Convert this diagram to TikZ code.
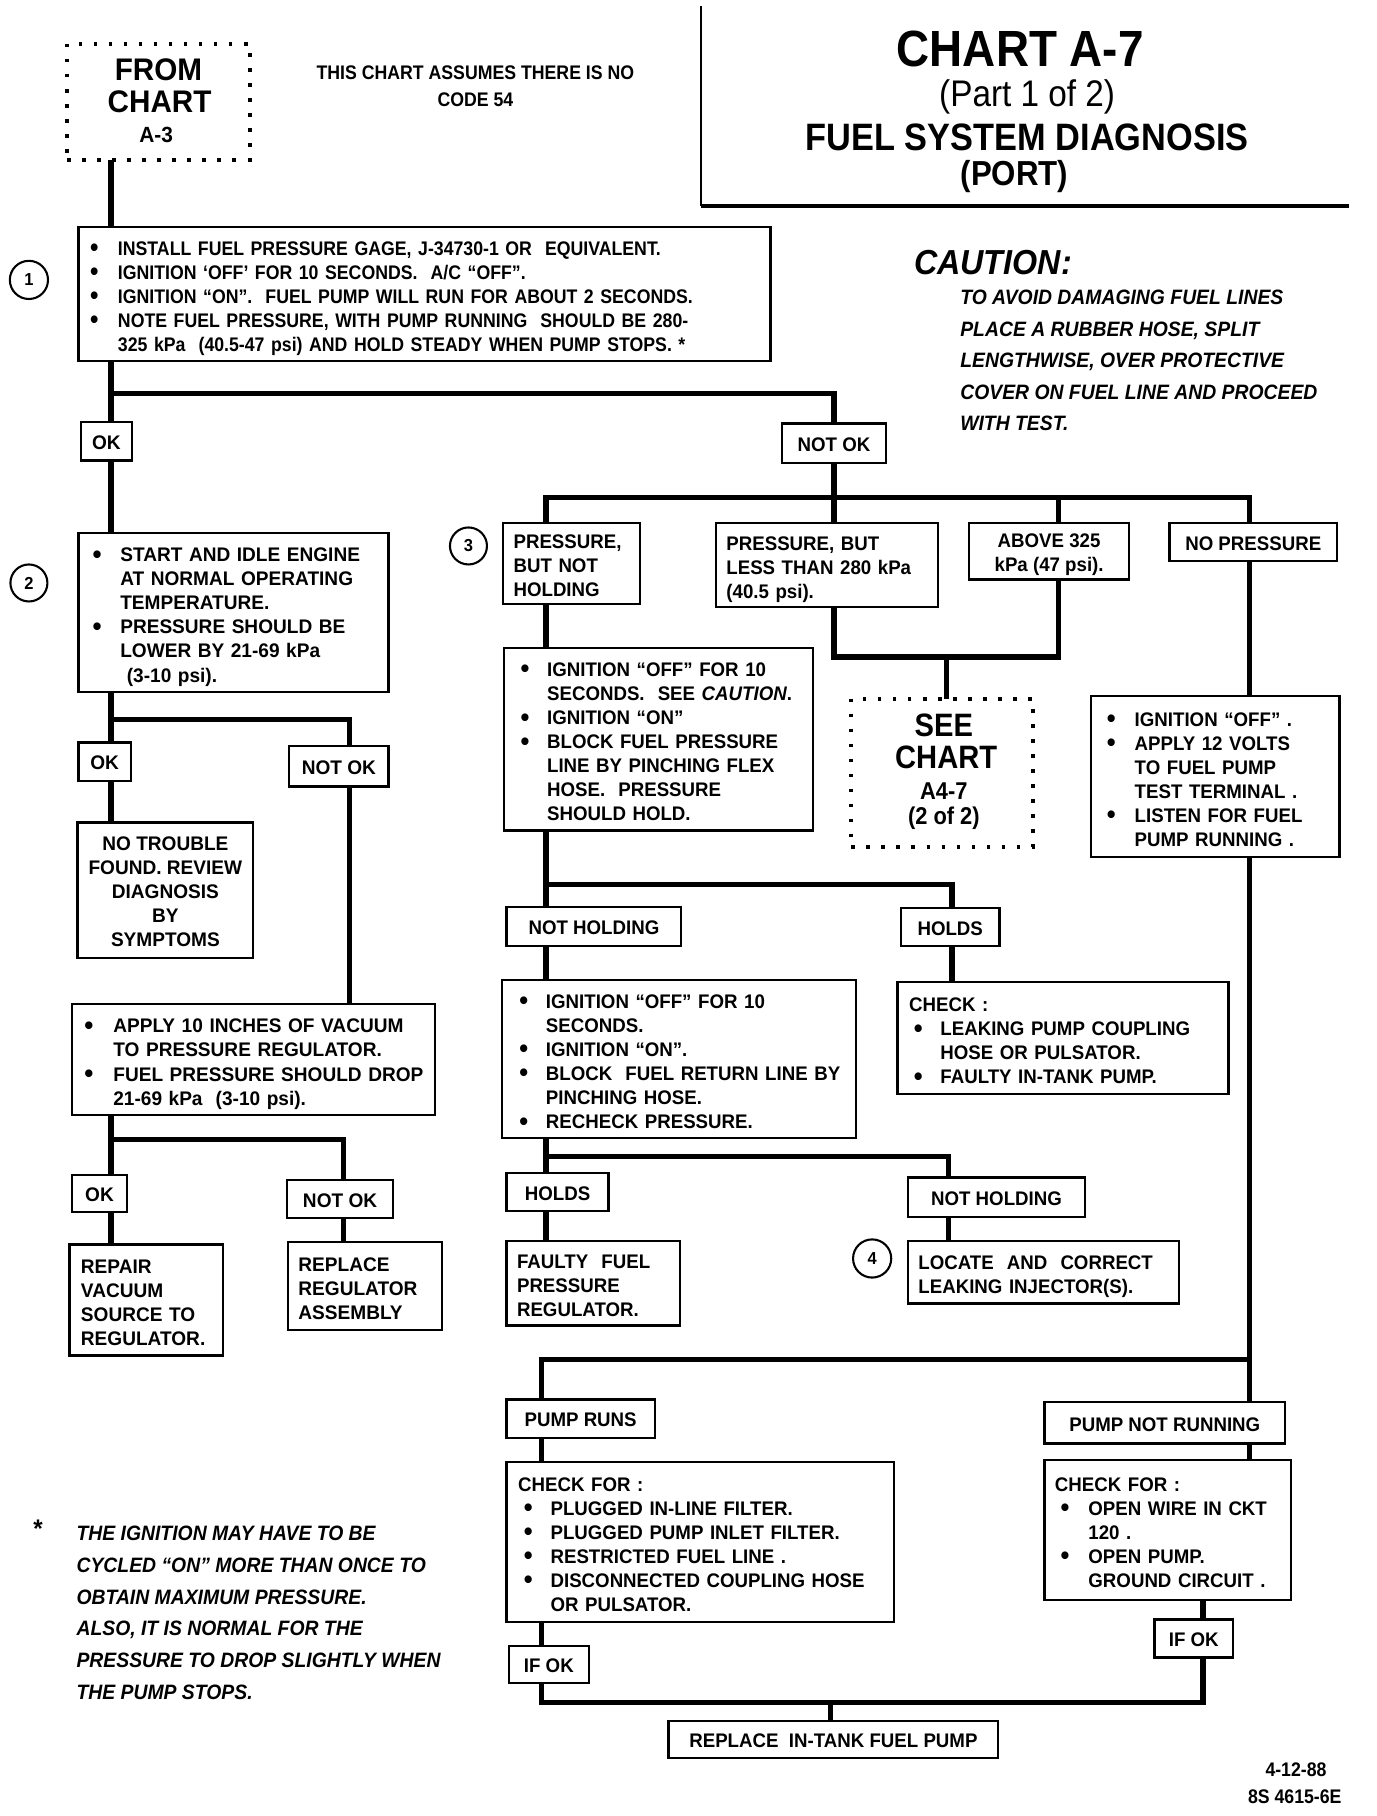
\documentclass[tikz,border=0pt]{standalone}
\usepackage{fontspec}
\setmainfont{Liberation Sans}
\newfontfamily\cf{Liberation Sans}[FakeStretch=0.9]
\newfontfamily\nf{Liberation Sans}[FakeStretch=0.95]
\newfontfamily\wf{Liberation Sans}[FakeStretch=0.97]
\newfontfamily\itf{Liberation Sans}[FakeStretch=0.93]
\newlength\bulw
\setlength\bulw{24pt}
\newcommand\bu{\makebox[\bulw][l]{\raisebox{-1.3pt}{\fontsize{23}{0}\selectfont\textbullet}}}
\newcommand\ind{\hspace*{\bulw}}
\tikzset{
 box/.style={draw, line width=2pt, outer sep=0pt, anchor=north west, inner ysep=0pt,
   font=\nf\bfseries\fontsize{17}{20.8}\selectfont},
 wide/.style={font=\wf\bfseries\fontsize{17}{20.8}\selectfont},
 cond/.style={font=\cf\bfseries\fontsize{17}{20.8}\selectfont},
 conn/.style={line width=4.5pt, line join=miter},
 dotbox/.style={draw, line width=3.5pt, dash pattern=on 3pt off 10pt, anchor=north west, outer sep=0pt, inner sep=0pt},
 circ/.style={circle, draw, line width=1.8pt, minimum size=33pt, inner sep=0pt, font=\nf\bfseries\fontsize{15}{15}\selectfont},
 txt/.style={inner sep=0pt},
}
\newcommand\lbox[8][]{%
 \pgfmathsetmacro\bw{#5-#3}\pgfmathsetmacro\bh{#6-#4}\pgfmathsetmacro\tw{#5-#3-2*#7}%
 \node[box,#1,inner xsep=#7pt,minimum width=\bw pt,minimum height=\bh pt,text width=\tw pt,align=left] (#2) at (#3,#4) {\noindent\raisebox{-4pt}[\height][\depth]{\begin{tabular}{@{}l@{}}#8\end{tabular}}};}
\newcommand\cbox[7][]{%
 \pgfmathsetmacro\bw{#5-#3}\pgfmathsetmacro\bh{#6-#4}%
 \node[box,#1,inner xsep=0pt,minimum width=\bw pt,minimum height=\bh pt] (#2) at (#3,#4) {\raisebox{-3pt}[\height][\depth]{\begin{tabular}{@{}c@{}}#7\end{tabular}}};}
\begin{document}
\begin{tikzpicture}[x=1pt,y=-1pt]
\fill[white] (0,0) rectangle (1190,1570);
\useasboundingbox (0,0) rectangle (1190,1570);

% ---------- header ----------
\node[dotbox, minimum width=158pt, minimum height=100pt] (fromA) at (58,38) {};
\node[txt, font=\nf\bfseries\fontsize{27}{27}\selectfont] (fromT1) at (137,60) {FROM};
\node[txt, font=\nf\bfseries\fontsize{27}{27}\selectfont] (fromT2) at (138,88) {CHART};
\node[txt, font=\nf\bfseries\fontsize{19}{19}\selectfont] (fromT3) at (135,117) {A-3};

\node[txt, font=\cf\bfseries\fontsize{17}{17}\selectfont] (assume1) at (411,63) {THIS CHART ASSUMES THERE IS NO};
\node[txt, font=\cf\bfseries\fontsize{17}{17}\selectfont] (assume2) at (411,86) {CODE 54};

\coordinate (tl1) at (606,5);
\coordinate (tl2) at (606,178);
\coordinate (tl3) at (1166,178);
\draw[line width=2pt] (tl1) -- (tl2);
\draw[line width=3pt] (tl2) -- (tl3);
\node[txt, font=\cf\bfseries\fontsize{44}{44}\selectfont] (title1) at (882,42) {CHART A-7};
\node[txt, font=\cf\fontsize{32}{32}\selectfont] (title2) at (888,84) {(Part 1 of 2)};
\node[txt, font=\cf\bfseries\fontsize{33}{33}\selectfont] (title3) at (888,119) {FUEL SYSTEM DIAGNOSIS};
\node[txt, font=\cf\bfseries\fontsize{30}{30}\selectfont] (title4) at (877,153) {(PORT)};

% caution
\node[txt, anchor=west, font=\itf\bfseries\itshape\fontsize{30}{30}\selectfont] (caut) at (790,227) {CAUTION:};
\node[txt, anchor=north west, align=left, font=\itf\bfseries\itshape\fontsize{18}{27.3}\selectfont] (cautT) at (830,244)
 {\begin{tabular}{@{}l@{}}TO AVOID DAMAGING FUEL LINES\\PLACE A RUBBER HOSE, SPLIT\\LENGTHWISE, OVER PROTECTIVE\\COVER ON FUEL LINE AND PROCEED\\WITH TEST.\end{tabular}};

% ---------- boxes ----------
\setlength\bulw{24pt}
\lbox[cond]{b1}{68}{196}{666}{312}{10}{\bu INSTALL FUEL PRESSURE GAGE, J-34730-1 OR\ \ EQUIVALENT.\\
\bu IGNITION ‘OFF’ FOR 10 SECONDS.\ \ A/C “OFF”.\\
\bu IGNITION “ON”.\ \ FUEL PUMP WILL RUN FOR ABOUT 2 SECONDS.\\
\bu NOTE FUEL PRESSURE, WITH PUMP RUNNING\ \ SHOULD BE 280-\\
\ind 325 kPa\ \ (40.5-47 psi) AND HOLD STEADY WHEN PUMP STOPS. *}
\node[circ] (c1) at (25,242) {1};

\cbox[wide]{ok1}{70}{365}{114}{398}{OK}
\cbox{notok1}{676}{366}{766}{400}{NOT OK}

\lbox[wide]{b2}{68}{461}{336}{598}{12}{\bu START AND IDLE ENGINE\\ \ind AT NORMAL OPERATING\\ \ind TEMPERATURE.\\
\bu PRESSURE SHOULD BE\\ \ind LOWER BY 21-69 kPa\\ \ind\ (3-10 psi).}
\node[circ, minimum size=32pt] (c2) at (25,504) {2};

\cbox[wide]{ok2}{68}{642}{113}{675}{OK}
\cbox[wide]{notok2}{250}{645}{336}{680}{NOT OK}
\cbox[wide]{notrouble}{67}{711}{219}{828}{NO TROUBLE\\FOUND. REVIEW\\DIAGNOSIS\\BY\\SYMPTOMS}

\setlength\bulw{25pt}
\lbox[wide]{apply}{62}{868}{376}{964}{11}{\bu APPLY 10 INCHES OF VACUUM\\ \ind TO PRESSURE REGULATOR.\\
\bu FUEL PRESSURE SHOULD DROP\\ \ind 21-69 kPa\ \ (3-10 psi).}
\cbox[wide]{ok3}{62}{1016}{110}{1048}{OK}
\cbox[wide]{notok3}{248}{1020}{340}{1053}{NOT OK}
\lbox[wide]{repair}{60}{1076}{193}{1172}{10}{REPAIR\\VACUUM\\SOURCE TO\\REGULATOR.}
\lbox[wide]{replreg}{249}{1074}{382}{1150}{9}{REPLACE\\REGULATOR\\ASSEMBLY}

% middle row of outcomes
\lbox{pbnh}{435}{452}{553}{522}{9}{PRESSURE,\\BUT NOT\\HOLDING}
\node[circ, minimum size=32pt] (c3) at (405,472) {3};
\lbox{less}{619}{452}{811}{525}{9}{PRESSURE, BUT\\LESS THAN 280 kPa\\(40.5 psi).}
\cbox{above}{838}{452}{976}{501}{ABOVE 325\\kPa (47 psi).}
\cbox{nop}{1011}{452}{1156}{485}{NO PRESSURE}

\setlength\bulw{23pt}
\lbox{ign1}{436}{560}{703}{718}{14}{\bu IGNITION “OFF” FOR 10\\ \ind SECONDS.\ \ SEE \textit{CAUTION}.\\
\bu IGNITION “ON”\\ \bu BLOCK FUEL PRESSURE\\ \ind LINE BY PINCHING FLEX\\ \ind HOSE.\ \ PRESSURE\\ \ind SHOULD HOLD.}

\node[dotbox, minimum width=157pt, minimum height=128pt] (seeA) at (736,604) {};
\node[txt, font=\cf\bfseries\fontsize{28}{28}\selectfont] (seeT1) at (816,627) {SEE};
\node[txt, font=\cf\bfseries\fontsize{28}{28}\selectfont] (seeT2) at (818,655) {CHART};
\node[txt, font=\cf\bfseries\fontsize{21}{21}\selectfont] (seeT3) at (816,684) {A4-7};
\node[txt, font=\cf\bfseries\fontsize{21}{21}\selectfont] (seeT4) at (816,707) {(2 of 2)};

\setlength\bulw{24pt}
\lbox{rbox}{943}{602}{1158}{741}{14}{\bu IGNITION “OFF” .\\ \bu APPLY 12 VOLTS\\ \ind TO FUEL PUMP\\ \ind TEST TERMINAL .\\
\bu LISTEN FOR FUEL\\ \ind PUMP RUNNING .}

\cbox{nothold1}{438}{784}{589}{818}{NOT HOLDING}
\cbox{holds1}{779}{785}{864}{818}{HOLDS}

\setlength\bulw{23pt}
\lbox{box3}{434}{847}{740}{984}{15}{\bu IGNITION “OFF” FOR 10\\ \ind SECONDS.\\ \bu IGNITION “ON”.\\
\bu BLOCK\ \ FUEL RETURN LINE BY\\ \ind PINCHING HOSE.\\ \bu RECHECK PRESSURE.}
\lbox{check1}{776}{849}{1062}{946}{14}{\hspace*{-4pt}CHECK :\\ \bu LEAKING PUMP COUPLING\\ \ind HOSE OR PULSATOR.\\ \bu FAULTY IN-TANK PUMP.}

\cbox{holds2}{438}{1014}{526}{1047}{HOLDS}
\cbox{nothold2}{785}{1018}{938}{1052}{NOT HOLDING}
\lbox{faulty}{438}{1073}{588}{1146}{9}{FAULTY\ \ FUEL\\PRESSURE\\REGULATOR.}
\node[circ] (c4) at (754,1088) {4};
\lbox{locate}{785}{1073}{1019}{1127}{9}{LOCATE\ \ AND\ \ CORRECT\\LEAKING INJECTOR(S).}

\cbox{pumpruns}{438}{1210}{566}{1243}{PUMP RUNS}
\cbox{pumpnr}{903}{1212}{1111}{1248}{PUMP NOT RUNNING}
\lbox{checkL}{438}{1264}{773}{1402}{15}{\hspace*{-5pt}CHECK FOR :\\ \bu PLUGGED IN-LINE FILTER.\\ \bu PLUGGED PUMP INLET FILTER.\\
\bu RESTRICTED FUEL LINE .\\ \bu DISCONNECTED COUPLING HOSE\\ \ind OR PULSATOR.}
\setlength\bulw{24pt}
\lbox{checkR}{903}{1262}{1116}{1383}{14}{\hspace*{-5pt}CHECK FOR :\\ \bu OPEN WIRE IN CKT\\ \ind 120 .\\ \bu OPEN PUMP.\\ \ind GROUND CIRCUIT .}
\cbox{ifokL}{440}{1423}{509}{1455}{IF OK}
\cbox{ifokR}{998}{1400}{1066}{1433}{IF OK}
\cbox{replace}{578}{1488}{863}{1520}{REPLACE\ \ IN-TANK FUEL PUMP}

% footnote
\node[txt, font=\nf\bfseries\fontsize{22}{22}\selectfont] (star) at (33,1322) {*};
\node[txt, anchor=north west, align=left, font=\itf\bfseries\itshape\fontsize{18}{27.6}\selectfont] (foot) at (66,1312)
 {\begin{tabular}{@{}l@{}}THE IGNITION MAY HAVE TO BE\\CYCLED “ON” MORE THAN ONCE TO\\OBTAIN MAXIMUM PRESSURE.\\ALSO, IT IS NORMAL FOR THE\\PRESSURE TO DROP SLIGHTLY WHEN\\THE PUMP STOPS.\end{tabular}};

\node[txt, anchor=east, font=\cf\bfseries\fontsize{17}{17}\selectfont] (date1) at (1147,1530) {4-12-88};
\node[txt, anchor=east, font=\cf\bfseries\fontsize{17}{17}\selectfont] (date2) at (1160,1553) {8S 4615-6E};

% ---------- connector coordinates ----------
\coordinate (xa) at (96,0);
\coordinate (xb) at (302,0);
\coordinate (xc) at (297,0);
\coordinate (xd) at (472,0);
\coordinate (xe) at (721,0);
\coordinate (xg) at (915,0);
\coordinate (xh) at (1080,0);
\coordinate (xi) at (818,0);
\coordinate (xj) at (823,0);
\coordinate (xk) at (820,0);
\coordinate (xl) at (468,0);
\coordinate (xm) at (1040,0);
\coordinate (xn) at (718,0);
\coordinate (ya) at (0,340);
\coordinate (yb) at (0,430);
\coordinate (yc) at (0,568);
\coordinate (yd) at (0,622);
\coordinate (ye) at (0,985);
\coordinate (yf) at (0,765);
\coordinate (yg) at (0,1000);
\coordinate (yh) at (0,1175);
\coordinate (yi) at (0,1472);

% ---------- connectors ----------
\draw[conn] (fromA.south -| xa) -- (b1.north -| xa);
\draw[conn] (b1.south -| xa) -- (ok1.north -| xa);
\draw[conn] (xa |- ya) -| (notok1.north -| xe);
\draw[conn] (ok1.south -| xa) -- (b2.north -| xa);
\draw[conn] (notok1.south -| xe) -- (xe |- yb);
\draw[conn] (pbnh.north -| xd) -- (xd |- yb) -- (xh |- yb) -- (nop.north -| xh);
\draw[conn] (xe |- yb) -- (less.north -| xe);
\draw[conn] (xg |- yb) -- (above.north -| xg);
\draw[conn] (less.south -| xe) -- (xe |- yc) -- (xg |- yc) -- (above.south -| xg);
\draw[conn] (xi |- yc) -- (seeA.north -| xi);
\draw[conn] (pbnh.south -| xd) -- (ign1.north -| xd);
\draw[conn] (ign1.south -| xd) -- (nothold1.north -| xd);
\draw[conn] (xd |- yf) -| (holds1.north -| xj);
\draw[conn] (nothold1.south -| xd) -- (box3.north -| xd);
\draw[conn] (holds1.south -| xj) -- (check1.north -| xj);
\draw[conn] (box3.south -| xd) -- (holds2.north -| xd);
\draw[conn] (xd |- yg) -| (nothold2.north -| xk);
\draw[conn] (holds2.south -| xd) -- (faulty.north -| xd);
\draw[conn] (nothold2.south -| xk) -- (locate.north -| xk);
\draw[conn] (nop.south -| xh) -- (rbox.north -| xh);
\draw[conn] (rbox.south -| xh) -- (pumpnr.north -| xh);
\draw[conn] (xh |- yh) -| (pumpruns.north -| xl);
\draw[conn] (pumpruns.south -| xl) -- (checkL.north -| xl);
\draw[conn] (pumpnr.south -| xh) -- (checkR.north -| xh);
\draw[conn] (checkL.south -| xl) -- (ifokL.north -| xl);
\draw[conn] (checkR.south -| xm) -- (ifokR.north -| xm);
\draw[conn] (ifokL.south -| xl) -- (xl |- yi) -- (xm |- yi) -- (ifokR.south -| xm);
\draw[conn] (xn |- yi) -- (replace.north -| xn);
\draw[conn] (b2.south -| xa) -- (ok2.north -| xa);
\draw[conn] (xa |- yd) -| (notok2.north -| xb);
\draw[conn] (ok2.south -| xa) -- (notrouble.north -| xa);
\draw[conn] (notok2.south -| xb) -- (apply.north -| xb);
\draw[conn] (apply.south -| xa) -- (ok3.north -| xa);
\draw[conn] (xa |- ye) -| (notok3.north -| xc);
\draw[conn] (ok3.south -| xa) -- (repair.north -| xa);
\draw[conn] (notok3.south -| xc) -- (replreg.north -| xc);
\end{tikzpicture}
\end{document}
